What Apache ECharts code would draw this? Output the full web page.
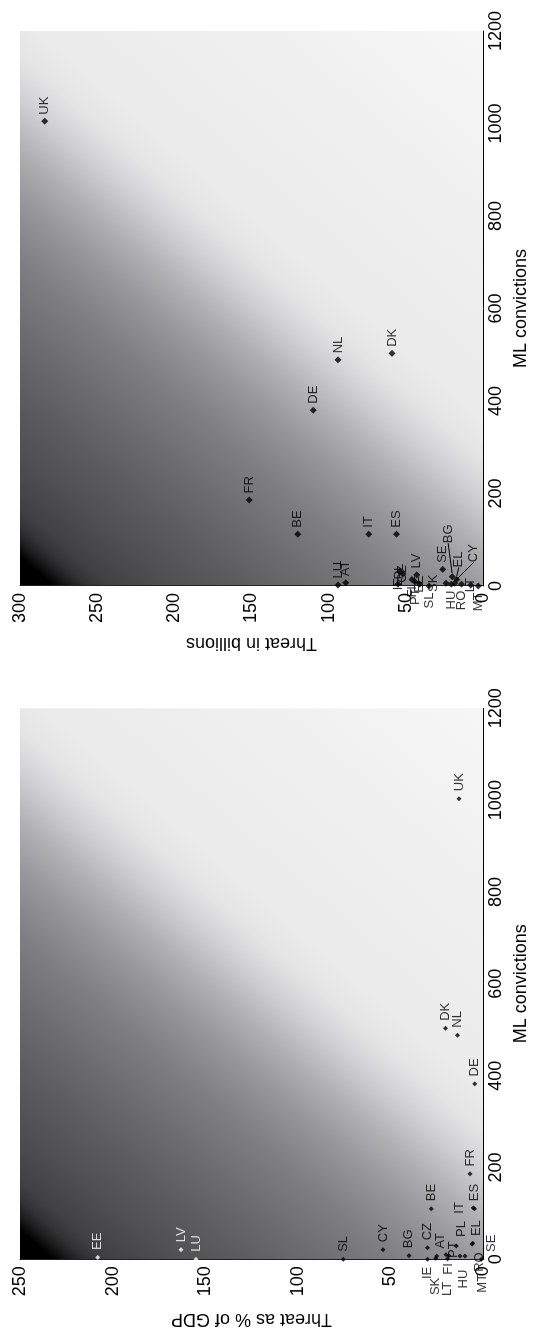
<!DOCTYPE html>
<html>
<head>
<meta charset="utf-8">
<script src="https://cdn.jsdelivr.net/npm/echarts@6/dist/echarts.min.js"></script>
<style>
  html, body { margin: 0; padding: 0; background: #fff; overflow: hidden; width: 538px; height: 1336px; }
  /* the figure is laid out landscape and turned a quarter turn counter-clockwise */
  #chart { position: absolute; left: 0; top: 0; width: 1336px; height: 538px;
           transform-origin: 0 0; transform: translate(0, 1336px) rotate(-90deg); }
</style>
</head>
<body>
<div id="chart"></div>
<script>
// ---- data: threat as % of GDP vs ML convictions ----
const gdpCountries   = ['EE','LV','LU','SL','CY','BG','CZ','IE','BE','AT','SK','LT','FI','PT','PL','HU','IT','ES','FR','EL','SE','RO','MT','DE','NL','DK','UK'];
const gdpConvictions = [4, 21, 0, 0, 21, 8, 25, 0, 110, 7, 2, 1, 8, 10, 29, 7, 112, 110, 186, 33, 35, 7, 0, 382, 488, 503, 1003];
const gdpThreat      = [208, 163, 155, 75.5, 54, 40, 30, 30, 28, 25, 25.5, 19.2, 18.5, 20, 14.4, 12.4, 5.2, 4.6, 7, 6, 5.5, 9.7, 1, 4.5, 13.8, 20.2, 13];

// ---- data: threat in billions vs ML convictions ----
const bnCountries   = ['UK','NL','DK','DE','FR','BE','IT','ES','LU','AT','IE','PL','CZ','FI','PT','LV','EE','SL','SE','SK','BG','EL','HU','RO','LT','CY','MT'];
const bnConvictions = [1005, 489, 503, 380, 186, 112, 112, 112, 2, 7, 4, 31, 26, 14, 9, 24, 4, 0, 36, 6, 20, 14, 4, 4, 2, 6, 0];
const bnThreat      = [284, 94, 59, 110, 151.5, 120, 74, 56, 94, 89, 55, 54, 52, 46, 44, 43, 41, 35, 26, 24, 20, 17, 20.5, 14, 8, 18.3, 3];

// ---- axis scales ----
const convictionRange = [0, 1200, 200];
const gdpRange = [0, 250, 50];
const bnRange = [0, 300, 50];

// label placement per country (landscape pixels)
const gdpLabelPlace = {
  IE: {p: 'left'}, SK: {p: 'inside', o: [-28, 0]}, LT: {p: 'inside', o: [-30, 0]},
  FI: {p: 'left'}, PT: {p: 'inside', o: [5, 7]}, HU: {p: 'inside', o: [-23, 3]},
  RO: {p: 'inside', o: [-6, 14]}, MT: {p: 'inside', o: [-24, 1]},
  IT: {p: 'top'}, SE: {p: 'bottom', o: [0, 5]}, EL: {p: 'inside', o: [16, 5]},
  AT: {p: 'right', o: [0, 4]}, PL: {p: 'inside', o: [17, 5]}
};
const gdpWhite = ['EE', 'LV', 'LU'];

const bnLabelPlace = {
  AT: {p: 'right', o: [0, 5]}, IE: {p: 'inside', o: [-10, -6]},
  PL: {p: 'inside', o: [6, -10]}, CZ: {p: 'inside', o: [14, 3]},
  EE: {p: 'inside', o: [12, 8]}, FI: {p: 'left'}, PT: {p: 'left', o: [0, 2]},
  SL: {p: 'left', o: [0, 4]}, SK: {p: 'top'}, HU: {p: 'left'}, RO: {p: 'left'},
  MT: {p: 'left'}, LT: {p: 'inside', o: [8, -2]},
  BG: {p: 'inside', lead: [43, -4]}, EL: {p: 'inside', lead: [20, 2]},
  CY: {p: 'inside', lead: [30, 19]}
};

const FONT = '"Liberation Sans", Arial, Helvetica, sans-serif';

// background shading: black at the (0, max) corner, fading to pale grey;
// the fade runs mostly along the conviction axis
function shade(w, h) {
  const L = 1000, ux = 0.755, uy = 0.656;
  return {
    type: 'linear', x: 0, y: 0, x2: L * ux / w, y2: L * uy / h,
    colorStops: [
      {offset: 0.000, color: '#000000'},
      {offset: 0.022, color: '#000000'},
      {offset: 0.034, color: '#1e1e1f'},
      {offset: 0.045, color: '#333335'},
      {offset: 0.060, color: '#414143'},
      {offset: 0.098, color: '#4f4f52'},
      {offset: 0.150, color: '#5e5e61'},
      {offset: 0.195, color: '#6d6d70'},
      {offset: 0.248, color: '#808084'},
      {offset: 0.293, color: '#97979b'},
      {offset: 0.330, color: '#b0b0b3'},
      {offset: 0.368, color: '#d0d0d2'},
      {offset: 0.398, color: '#e4e4e5'},
      {offset: 0.430, color: '#ebebeb'},
      {offset: 0.560, color: '#efefef'},
      {offset: 0.720, color: '#f6f6f6'}
    ]
  };
}

const grids = [
  {left: 76.7, top: 20, width: 551, height: 463},
  {left: 750, top: 20, width: 555, height: 463}
];

function buildPoints(names, xs, ys, place, white, size, gap) {
  return names.map((n, i) => {
    const pl = place[n] || {p: 'right'};
    const isWhite = white && white.indexOf(n) >= 0;
    const item = {
      name: n, value: [xs[i], ys[i]],
      symbolSize: size,
      itemStyle: {color: isWhite ? '#ffffff' : '#000000'},
      label: {position: pl.p, distance: gap, color: isWhite ? '#ffffff' : '#000000'}
    };
    if (pl.o) item.label.offset = pl.o;
    if (pl.lead) item.labelLine = {show: true, length2: 0, lineStyle: {color: '#000', width: 1}};
    return item;
  });
}

function leadLayout(names, place) {
  return function (params) {
    const pl = place[names[params.dataIndex]];
    if (pl && pl.lead) return {dx: pl.lead[0], dy: pl.lead[1]};
    return {};
  };
}

const plain = v => String(v);

function xAxis(gi) {
  return {
    type: 'value', gridIndex: gi, min: convictionRange[0], max: convictionRange[1], interval: convictionRange[2],
    name: 'ML convictions', nameLocation: 'middle', nameGap: 29,
    nameTextStyle: {fontSize: 18, color: '#000', fontFamily: FONT},
    axisLine: {show: true, onZero: false, lineStyle: {color: '#000', width: 1}},
    axisTick: {show: false}, splitLine: {show: false},
    axisLabel: {fontSize: 18, color: '#000', fontFamily: FONT, margin: 4, formatter: plain}
  };
}
function yAxis(gi, r, title, gap) {
  return {
    type: 'value', gridIndex: gi, min: r[0], max: r[1], interval: r[2],
    name: title, nameLocation: 'middle', nameGap: gap,
    nameTextStyle: {fontSize: 18, color: '#000', fontFamily: FONT},
    axisLine: {show: true, onZero: false, lineStyle: {color: '#222', width: 1}},
    axisTick: {show: false}, splitLine: {show: false},
    axisLabel: {fontSize: 18, color: '#000', fontFamily: FONT, margin: 7, formatter: plain}
  };
}

const chart = echarts.init(document.getElementById('chart'), null, {renderer: 'canvas'});
chart.setOption({
  animation: false,
  backgroundColor: '#fff',
  grid: grids.map(g => Object.assign({show: true, borderWidth: 0, backgroundColor: shade(g.width, g.height)}, g)),
  xAxis: [xAxis(0), xAxis(1)],
  yAxis: [yAxis(0, gdpRange, 'Threat as % of GDP', 51), yAxis(1, bnRange, 'Threat in billions', 48)],
  series: [
    {
      type: 'scatter', xAxisIndex: 0, yAxisIndex: 0, symbol: 'diamond',
      label: {show: true, formatter: '{b}', fontSize: 13, fontFamily: FONT},
      data: buildPoints(gdpCountries, gdpConvictions, gdpThreat, gdpLabelPlace, gdpWhite, 5, 5)
    },
    {
      type: 'scatter', xAxisIndex: 1, yAxisIndex: 1, symbol: 'diamond',
      label: {show: true, formatter: '{b}', fontSize: 13, fontFamily: FONT},
      labelLayout: leadLayout(bnCountries, bnLabelPlace),
      data: buildPoints(bnCountries, bnConvictions, bnThreat, bnLabelPlace, null, 7, 3)
    }
  ]
});
</script>
</body>
</html>
